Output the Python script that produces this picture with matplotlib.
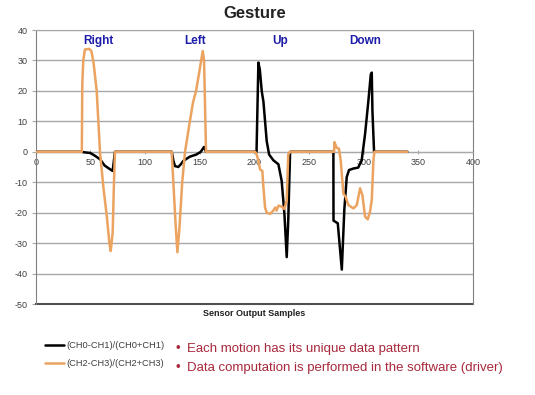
import matplotlib.pyplot as plt

plt.rcParams['font.family'] = ['Liberation Sans', 'DejaVu Sans']
plt.rcParams['axes.unicode_minus'] = False

# 传感器输出（黑：CH0/CH1，橙：CH2/CH3）
black_x = [0, 42, 45, 50, 55, 59, 63, 67, 70.4, 72.5, 124.4, 126, 127.4, 130.4, 133, 135,
           141, 147, 151, 154, 155.8, 202, 203.7, 205, 206.8, 208.3, 209.8, 211.3, 213.5,
           217.4, 222, 225, 227.5, 229.6, 231, 232.7, 272.3, 272.4, 276.3, 280, 282.3,
           284.5, 286.6, 290.6, 295, 298.2, 301.3, 304.3, 306.5, 307.4, 308, 309.5, 340]
black_y = [0, 0, -0.2, -0.4, -1.5, -2.5, -4.5, -5.5, -6.3, 0, 0, -3, -4.7, -5, -4, -3,
           -1.6, -0.9, 0, 1.6, 0, 0, 29.3, 27, 19.8, 16.5, 10, 3.5, -0.9,
           -2.8, -4.1, -9.6, -20.4, -34.6, -22.6, 0, 0, -22.6, -23.5, -38.7, -19,
           -8.3, -6, -5.5, -5.2, -2.8, 5.9, 16.7, 25.4, 26, 13.5, 0, 0]

orange_x = [0, 42.2, 42.6, 43.5, 45, 49, 51, 53, 55.8, 58.8, 62, 65, 67.4, 68.6, 70.4,
            71.6, 72.5, 124.4, 125.9, 128, 129.6, 131.5, 134, 136.6, 141, 144, 146.7, 150,
            152.8, 154, 155.8, 200.7, 202.2, 203.7, 205.2, 207.3, 208.3, 209.8, 211.3,
            214.4, 217.4, 219, 220.4, 222, 225, 227.5, 229.6, 231, 232.7, 273, 273.2,
            275.3, 277.4, 279, 281.4, 283.5, 286, 290.6, 293.7, 296.7, 298.8, 301.3,
            303.7, 305.8, 307.4, 308.9, 309.8, 340]
orange_y = [0, 0, 22, 30, 33.6, 33.8, 33, 29, 20, 0, -12, -21, -30, -32.6, -26.6,
            -10, 0, 0, -10, -24, -33, -25, -10, 0, 10, 16.4, 20, 27,
            33.1, 30, 0, 0, -0.9, -3, -5.8, -6.3, -11.7, -18.3, -20,
            -20.4, -19.3, -18.3, -19.3, -17.7, -18, -18.8, -16, -0.9, 0, 0, 3.2,
            1.3, 1, -2.8, -13.7, -14.8, -17.5, -18.6, -17.5, -12, -14.2, -21.3,
            -22.2, -19.7, -15.9, -2.8, 0, 0]

gestures = ["Right", "Left", "Up", "Down"]
gesture_x = [57, 145.7, 224, 301]

labels = ["(CH0-CH1)/(CH0+CH1)", "(CH2-CH3)/(CH2+CH3)"]
bullets = ["Each motion has its unique data pattern",
           "Data computation is performed in the software (driver)"]

W, H = 535, 395
fig = plt.figure(figsize=(W / 100, H / 100), dpi=100)
ax = fig.add_axes([35.7 / W, 1 - 304 / H, (473 - 35.7) / W, (304 - 30) / H])

l1, = ax.plot(black_x, black_y, color='black', lw=1.8, zorder=3,
              solid_joinstyle='round', solid_capstyle='round')
l2, = ax.plot(orange_x, orange_y, color='#EBA35F', lw=1.8, zorder=4,
              solid_joinstyle='round', solid_capstyle='round')

ax.set_xlim(0, 400)
ax.set_ylim(-50, 40)
ax.set_xticks(range(0, 401, 50))
ax.set_yticks(range(-50, 41, 10))
ax.yaxis.grid(True, color='#a8a8a8', lw=1)
ax.set_axisbelow(True)

ax.spines['bottom'].set_position(('data', 0))
ax.spines['bottom'].set_color('#a8a8a8')
ax.spines['left'].set_color('#808080')
ax.spines['right'].set_color('#808080')
ax.spines['top'].set_color('#a8a8a8')
ax.axhline(-50, color='#505050', lw=1.5, clip_on=False, zorder=2)

ax.tick_params(axis='x', length=3, direction='inout', color='#a8a8a8',
               labelsize=6.5, labelcolor='#404040', pad=3)
ax.tick_params(axis='y', length=3, color='#a8a8a8',
               labelsize=6.5, labelcolor='#404040', pad=3)

for name, gx in zip(gestures, gesture_x):
    ax.text(gx, 36.3, name, ha='center', va='center', fontsize=8.5,
            fontweight='bold', color='#1c1ca8')

fig.text(0.4755, 1 - 13 / H, "Gesture", ha='center', va='center',
         fontsize=12, fontweight='bold', color='#222222')
fig.text(0.4755, 1 - 313 / H, "Sensor Output Samples", ha='center', va='center',
         fontsize=6.5, fontweight='bold', color='#222222')

fig.legend([l1, l2], labels, loc='upper left', bbox_to_anchor=(45 / W, 1 - 341 / H),
           frameon=False, borderpad=0, borderaxespad=0, handlelength=2.0,
           handletextpad=0.3, labelspacing=0.95, fontsize=6.7, labelcolor='#404040')

for i, b in enumerate(bullets):
    yy = 1 - (349 + 19 * i) / H
    fig.text(175 / W, yy, "\u2022", ha='left', va='center', fontsize=9.5, color='#a8283c')
    fig.text(187 / W, yy, b, ha='left', va='center', fontsize=9.5, color='#a8283c')

fig.savefig("out.png", dpi=100)
